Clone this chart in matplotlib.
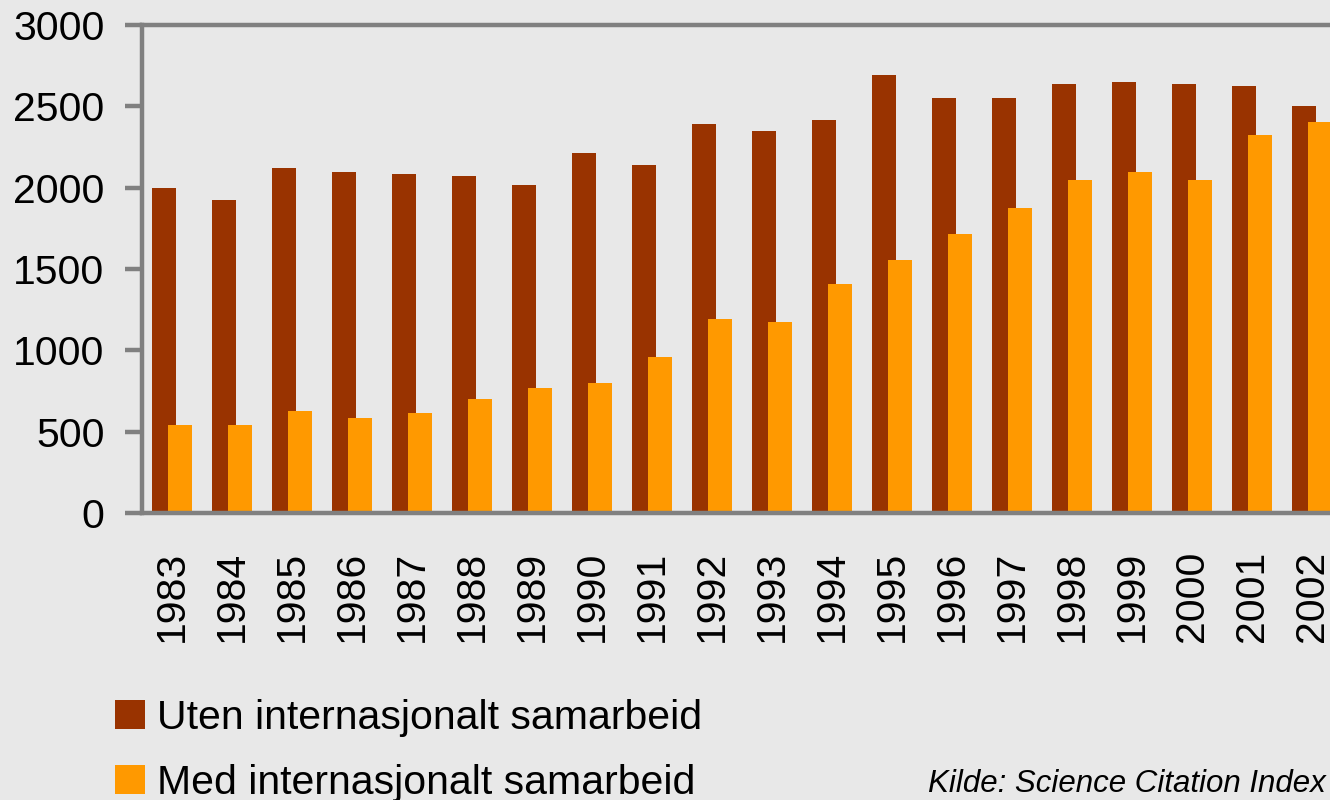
import numpy as np
import matplotlib.pyplot as plt
from matplotlib.patches import Patch

years = [str(y) for y in range(1983, 2003)]
uten = [2000, 1927, 2118, 2099, 2086, 2074, 2014, 2215, 2142, 2394,
        2350, 2419, 2695, 2554, 2554, 2639, 2651, 2639, 2622, 2504]
med = [540, 540, 625, 581, 612, 700, 766, 797, 957, 1190,
       1177, 1405, 1553, 1713, 1873, 2045, 2099, 2045, 2321, 2406]

label_uten = "Uten internasjonalt samarbeid"
label_med = "Med internasjonalt samarbeid"
source = "Kilde: Science Citation Index"

DARK = "#993300"
ORANGE = "#FF9900"
BG = "#E8E8E8"
GREY = "#808080"

plt.rcParams["font.family"] = ["Liberation Sans", "DejaVu Sans"]

fig = plt.figure(figsize=(13.3, 8), dpi=100, facecolor=BG)
ax = fig.add_axes([142 / 1330, 1 - 513 / 800, 1200 / 1330, 488 / 800])
ax.set_facecolor(BG)

x = np.arange(len(years))
w = 0.4
off = 0.133
ax.bar(x - off, uten, width=w, color=DARK, zorder=2)
ax.bar(x + off, med, width=w, color=ORANGE, zorder=3)

ax.set_xlim(-0.5, len(years) - 0.5)
ax.set_ylim(0, 3000)
ax.set_yticks(range(0, 3001, 500))
ax.set_xticks(x)
ax.set_xticklabels(years, rotation=90)

for side in ["left", "bottom", "top"]:
    ax.spines[side].set_color(GREY)
    ax.spines[side].set_linewidth(3.2)
    ax.spines[side].set_zorder(4)
ax.spines["right"].set_visible(False)

ax.tick_params(axis="y", length=12, width=3.2, color=GREY, pad=15,
               labelsize=29.5)
ax.tick_params(axis="x", length=0, pad=27, labelsize=29.5)

handles = [Patch(facecolor=DARK, label=label_uten),
           Patch(facecolor=ORANGE, label=label_med)]
fig.legend(handles=handles, loc="upper left",
           bbox_to_anchor=(115 / 1330, 1 - 699 / 800),
           frameon=False, fontsize=29.5, handlelength=0.72, handleheight=0.72,
           handletextpad=0.3, labelspacing=0.66, borderpad=0,
           borderaxespad=0)

fig.text(1326 / 1330, 1 - 792 / 800, source, ha="right", va="baseline",
         fontsize=22.5, style="italic")

fig.savefig("out.png", dpi=100, facecolor=BG)
